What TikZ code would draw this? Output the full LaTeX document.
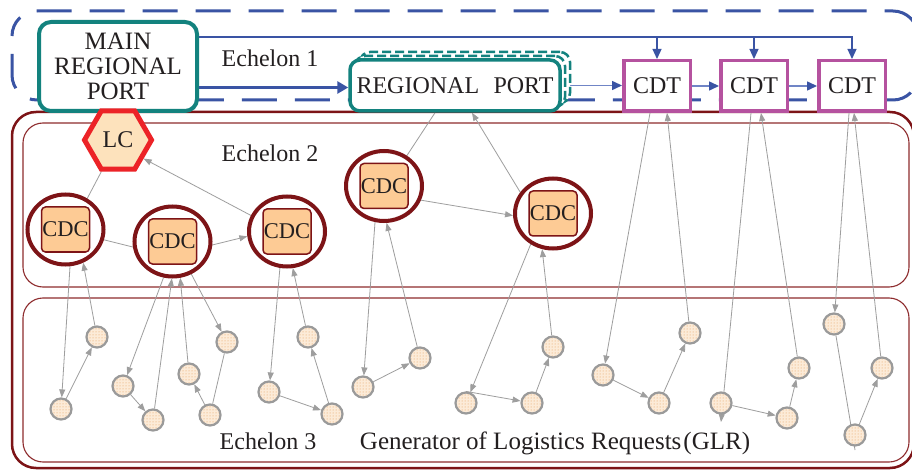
\documentclass[tikz,border=0pt]{standalone}
\usepackage{fontspec}
\setmainfont{Liberation Serif}
\usetikzlibrary{arrows.meta,shapes.geometric,patterns,calc}
\pgfdeclarelayer{background}
\pgfsetlayers{background,main}
\definecolor{bblue}{HTML}{3A54A4}
\definecolor{lblue}{HTML}{7085C6}
\definecolor{tealc}{HTML}{13827E}
\definecolor{magc}{HTML}{B5529F}
\definecolor{maroonc}{HTML}{7D1417}
\definecolor{framec}{HTML}{8E2C2E}
\definecolor{redc}{HTML}{EC2327}
\definecolor{lcfill}{HTML}{FDE2BC}
\definecolor{cdcfill}{HTML}{FDCB95}
\definecolor{glrgray}{HTML}{9A9A9A}
\definecolor{glrfill}{HTML}{FCEBD8}
\definecolor{glrdot}{HTML}{E39A55}
\definecolor{edgegray}{HTML}{9E9E9E}
\definecolor{txt}{HTML}{231F20}
\newcommand\dgfont{\fontsize{24}{25}\selectfont}
\newcommand\dgbigfont{\fontsize{25}{25}\selectfont}
\newcommand\cdcfont{\fontsize{22.5}{24}\selectfont}
\begin{document}
\begin{tikzpicture}[x=1pt,y=-1pt,
  every node/.style={text=txt},
  mainport/.style={draw=tealc, line width=4pt, rounded corners=12pt, fill=white,
    minimum width=158pt, minimum height=89pt, align=center, inner sep=0pt, font=\dgbigfont},
  rport/.style={draw=tealc, line width=3.5pt, rounded corners=10pt, fill=white,
    minimum width=210pt, minimum height=51pt, inner sep=0pt, font=\dgfont},
  rshadow/.style={draw=tealc, line width=2.5pt, rounded corners=10pt, fill=white,
    dash pattern=on 9pt off 4pt, minimum width=210pt, minimum height=51pt, inner sep=0pt},
  cdtbox/.style={draw=magc, line width=3.5pt, fill=white, minimum width=66.5pt,
    minimum height=50.5pt, inner sep=0pt, font=\dgfont},
  lchex/.style={regular polygon, regular polygon sides=6, minimum size=67pt, draw=redc,
    line width=5pt, fill=lcfill, inner sep=0pt, font=\dgfont},
  cdcring/.style={ellipse, draw=maroonc, line width=4pt, fill=white, minimum width=76pt,
    minimum height=70pt, inner sep=0pt},
  cdcbox/.style={draw=maroonc, line width=1.5pt, fill=cdcfill, rounded corners=4pt,
    minimum width=48pt, minimum height=45pt, inner sep=0pt, font=\cdcfont},
  glr/.style={circle, draw=glrgray, line width=2.2pt, minimum size=21pt, inner sep=0pt,
    preaction={fill=glrfill}, pattern=dots, pattern color=glrdot},
  gline/.style={draw=edgegray, line width=0.8pt},
  garr/.style={gline, -{Triangle[length=8pt,width=6pt]}},
  lbl/.style={font=\dgfont, anchor=base, inner sep=0pt}
]
\clip (0,0) rectangle (912,470);

% nodes
\node[mainport] (main) at (118,66.5) {MAIN\\REGIONAL\\PORT};
\node[rshadow] (rps2) at (465,77.5) {};
\node[rshadow] (rps1) at (460,81.5) {};
\node[rport] (rp) at (455,85.5) {REGIONAL\hspace{0.6em}PORT};
\node[cdtbox] (cdt1) at (657,86) {CDT};
\node[cdtbox] (cdt2) at (754,86) {CDT};
\node[cdtbox] (cdt3) at (852,86) {CDT};
\coordinate (t3) at (852,37);

\node[lchex] (lc) at (118,140) {LC};

\node[cdcring] (cdc1) at (65.5,229.5) {};
\node[cdcbox] (cdc1b) at (cdc1) {CDC};
\node[cdcring] (cdc2) at (172.5,241.5) {};
\node[cdcbox] (cdc2b) at (cdc2) {CDC};
\node[cdcring] (cdc3) at (287,231.5) {};
\node[cdcbox] (cdc3b) at (cdc3) {CDC};
\node[cdcring] (cdc4) at (384,186) {};
\node[cdcbox] (cdc4b) at (cdc4) {CDC};
\node[cdcring] (cdc5) at (553,213.5) {};
\node[cdcbox] (cdc5b) at (cdc5) {CDC};

\node[glr] (a1) at (97,337) {};
\node[glr] (a2) at (61,409) {};
\node[glr] (a3) at (123,386) {};
\node[glr] (a4) at (153,420) {};
\node[glr] (a5) at (189,374) {};
\node[glr] (a6) at (210,415) {};
\node[glr] (a7) at (227,342) {};
\node[glr] (a8) at (269,392) {};
\node[glr] (a9) at (308,337) {};
\node[glr] (a10) at (332,414) {};
\node[glr] (b1) at (363,387) {};
\node[glr] (b2) at (420,358) {};
\node[glr] (b3) at (466,403) {};
\node[glr] (b4) at (532,403) {};
\node[glr] (b5) at (553,347) {};
\node[glr] (b6) at (603,375) {};
\node[glr] (c1) at (690,333) {};
\node[glr] (c3) at (659,403) {};
\node[glr] (c4) at (721,403) {};
\node[glr] (c5) at (787,418) {};
\node[glr] (c6) at (799,368) {};
\node[glr] (c7) at (834,324) {};
\node[glr] (c8) at (855,435) {};
\node[glr] (c9) at (882,368) {};

\node[lbl] (e1) at (270,67) {Echelon 1};
\node[lbl] (e2) at (270,162) {Echelon 2};
\node[lbl] (e3) at (268,449) {Echelon 3};
\node[lbl, font=\dgbigfont] (gen) at (555,449) {Generator of Logistics Requests\kern2pt(GLR)};

\begin{pgfonlayer}{background}
\fill[white] (0,0) rectangle (912,470);
% frames
\draw[bblue, line width=3pt, dash pattern=on 35pt off 18pt, dash phase=-18pt, rounded corners=25pt]
  (12,11) rectangle (918,100);
\draw[maroonc, line width=2.5pt, rounded corners=24pt] (12,112) rectangle (914,468);
\draw[framec, line width=1.1pt, rounded corners=20pt] (23,123) rectangle (909,287);
\draw[framec, line width=1.1pt, rounded corners=20pt] (23,298) rectangle (909,462);

% echelon 1 links
\draw[bblue, line width=3pt, -{Triangle[length=11pt,width=12pt]}]
  ([yshift=-2pt]main.east |- rp.west) -- ([yshift=-2pt]rp.west);
\draw[bblue, line width=1.2pt, -{Triangle[length=10pt,width=9pt]}] (main.east |- t3) -| (cdt3.north);
\draw[bblue, line width=1.2pt, -{Triangle[length=10pt,width=9pt]}] (cdt1.north |- t3) -- (cdt1.north);
\draw[bblue, line width=1.2pt, -{Triangle[length=10pt,width=9pt]}] (cdt2.north |- t3) -- (cdt2.north);
\draw[lblue, line width=1.5pt, -{Triangle[length=10pt,width=9pt,color=bblue]}] (rp.east) -- (rp.east -| cdt1.west);
\draw[lblue, line width=1.5pt, -{Triangle[length=10pt,width=9pt,color=bblue]}] (cdt1.east) -- (cdt2.west);
\draw[lblue, line width=1.5pt, -{Triangle[length=10pt,width=9pt,color=bblue]}] (cdt2.east) -- (cdt3.west);

% echelon 2 links
\draw[gline] (lc) -- (cdc1.55);
\draw[garr] (cdc3.156) -- (lc.-36);
\draw[gline] (cdc1.-15) -- (cdc2.188);
\draw[garr] (cdc2.-5) -- (cdc3.187);
\draw[gline] ([xshift=-20pt]rp.south) -- (cdc4.53);
\draw[garr] (cdc5.147) -- ([xshift=17pt]rp.south);
\draw[garr] (cdc4.-21) -- (cdc5.183);

% echelon 3 links
\draw[garr] (cdc1.-83) -- (a2);
\draw[garr] (a1) -- (cdc1.-62);
\draw[garr] (a2) -- (a1);
\draw[garr] (cdc2.-104) -- (a3);
\draw[garr] (a3) -- (a4);
\draw[garr] (a4) -- (cdc2.-91);
\draw[garr] (a5) -- (cdc2.-78);
\draw[garr] (cdc2.-60) -- (a7);
\draw[garr] (a6) -- (a5);
\draw[gline] (a7) -- (a6);
\draw[garr] (cdc3.-101) -- (a8);
\draw[garr] (a8) -- (a10);
\draw[garr] (a9) -- (cdc3.-81);
\draw[garr] (a10) -- (a9);
\draw[garr] (cdc4.-104) -- (b1);
\draw[garr] (b1) -- (b2);
\draw[garr] (b2) -- (cdc4.-86);
\draw[garr] (cdc5.-126) -- (b3);
\draw[garr] (b3.north) -- (b4);
\draw[garr] (b4) -- (b5);
\draw[garr] (b5) -- (cdc5.-107);
\draw[garr] ([xshift=-7pt]cdt1.south) -- (b6);
\draw[garr] (b6) -- (c3);
\draw[garr] (c3) -- (c1);
\draw[garr] (c1) -- ([xshift=10pt]cdt1.south);
\draw[garr] ([xshift=-3pt]cdt2.south) -- ([yshift=-19pt]c4.center);
\draw[garr] (c4) -- (c5);
\draw[garr] (c5) -- (c6);
\draw[garr] (c6) -- ([xshift=7pt]cdt2.south);
\draw[garr] ([xshift=-3pt]cdt3.south) -- (c7);
\draw[gline] (c7) -- ([yshift=-15pt]c8.center);
\draw[garr] (c8) -- (c9);
\draw[garr] (c9) -- ([xshift=2pt]cdt3.south);
\end{pgfonlayer}
\end{tikzpicture}
\end{document}
